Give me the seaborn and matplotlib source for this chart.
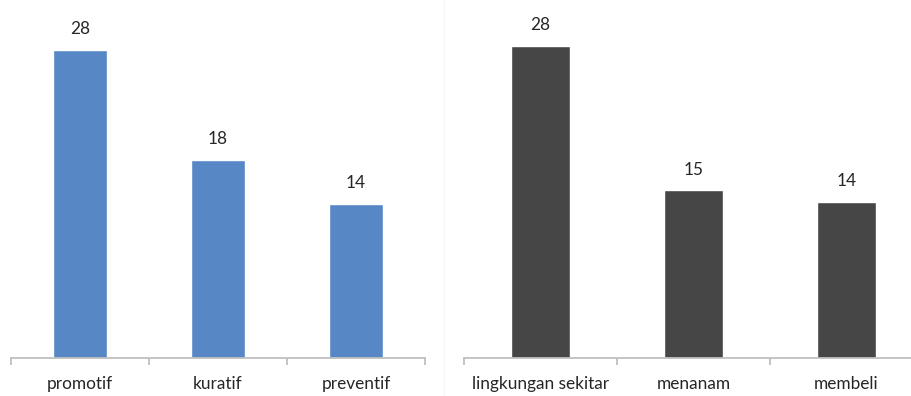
import seaborn as sns
import matplotlib.pyplot as plt
import pandas as pd

# data
left_categories = ["promotif", "kuratif", "preventif"]
left_values = [28, 18, 14]
right_categories = ["lingkungan sekitar", "menanam", "membeli"]
right_values = [28, 15, 14]

sns.set_style("white")
plt.rcParams["font.family"] = ["Lato", "DejaVu Sans"]

fig = plt.figure(figsize=(9.11, 3.96), dpi=100)

# axes positions in figure fraction (pixels / figure size)
ax1 = fig.add_axes([11 / 911, 38.5 / 396, 414 / 911, 330 / 396])
ax2 = fig.add_axes([464 / 911, 38.5 / 396, 459 / 911, 30 * 11.14 / 396])


def draw_panel(ax, cats, vals, color):
    df = pd.DataFrame({"cat": cats, "val": vals})
    sns.barplot(data=df, x="cat", y="val", color=color, width=0.39,
                saturation=1, ax=ax)
    ax.set_ylim(0, 30)
    ax.set_xlim(-0.5, len(cats) - 0.5)
    ax.set_xlabel("")
    ax.set_ylabel("")
    ax.set_yticks([])
    for side in ["top", "right", "left"]:
        ax.spines[side].set_visible(False)
    ax.spines["bottom"].set_color("#BFBFBF")
    ax.spines["bottom"].set_linewidth(1.3)
    ax.set_xticks(range(len(cats)))
    ax.set_xticklabels(cats, fontsize=12.4, color="#262626")
    ax.tick_params(axis="x", which="major", length=0, pad=13)
    ax.set_xticks([i - 0.5 for i in range(len(cats) + 1)], minor=True)
    ax.tick_params(axis="x", which="minor", bottom=True, length=5,
                   width=1.3, color="#BFBFBF", direction="out")
    for c in ax.containers:
        ax.bar_label(c, padding=9, fontsize=12.4, color="#262626")
    ax.patch.set_alpha(0)


draw_panel(ax1, left_categories, left_values, "#5787C5")
draw_panel(ax2, right_categories, right_values, "#464646")

# faint separator between the two charts
fig.add_artist(plt.Line2D([444 / 911, 444 / 911], [0, 1], color="#F7F7F7",
                          linewidth=1))

fig.savefig("out.png", dpi=100)
